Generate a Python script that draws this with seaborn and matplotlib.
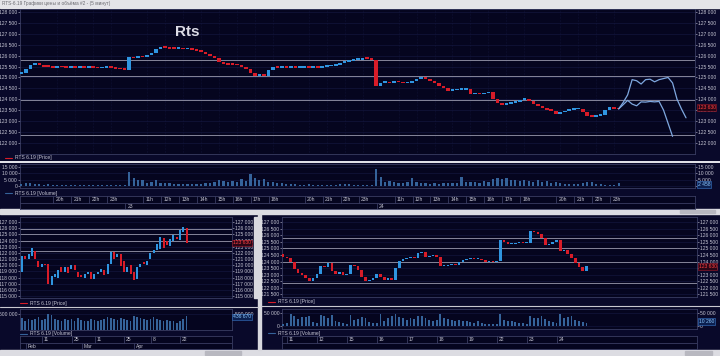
import numpy as np
import pandas as pd
import matplotlib
matplotlib.use("Agg")
import matplotlib.pyplot as plt
from matplotlib.lines import Line2D
from matplotlib.patches import Rectangle
import seaborn as sns

# -----------------------------
# style
sns.set_style("dark")
plt.rcParams['font.family'] = ['Liberation Sans', 'DejaVu Sans']

BG = '#09092a'
PANEL = '#05051f'
EDGE = '#3a3d62'
GRID = '#161a44'
UP = '#2f95e0'
DOWN = '#d81c28'
VOL = '#35639a'
LEVEL = '#85859a'
TXT = '#c4c4d2'
FC = '#7fa8e0'
FS = 3.6

# -----------------------------
# data: top chart, RTS-6.19, 15-min bars (22 evening, 23, 24 April)
top_open0 = 125200
top_close = [125250, 125420, 125600, 125650, 125620, 125520, 125500, 125470, 125520, 125490,
             125460, 125500, 125480, 125510, 125470, 125490, 125460, 125440, 125470, 125480,
             125460, 125420, 125400, 125380,
             125950, 125900, 126000, 125950, 126050, 126150, 126350, 126400, 126380, 126350,
             126330, 126370, 126320, 126340, 126300, 126250, 126200, 126100, 126000, 125900,
             125750, 125650, 125620, 125600, 125580, 125500, 125430, 125250, 125100, 125150,
             125100, 125380, 125500, 125480, 125500, 125450, 125480, 125470, 125480, 125500,
             125470, 125490, 125480, 125500, 125530, 125550, 125600, 125700, 125750, 125800,
             125820, 125850, 125900, 125870, 125850, 124650,
             124790, 124800, 124750, 124880, 124800, 124750, 124780, 124850, 124950, 125000,
             124950, 124880, 124750, 124620, 124550, 124420, 124440, 124450, 124470, 124500,
             124250, 124260, 124250, 124300, 124380, 124060, 123850, 123780, 123820, 123870,
             123920, 124000, 124050, 123950, 123820, 123700, 123620, 123540, 123480, 123370,
             123420, 123480, 123530, 123560, 123570, 123450, 123280, 123230, 123260, 123300,
             123550, 123650, 123600, 123560]
top_volume = [1800, 2600, 2200, 1500, 1200, 900, 1600, 700, 600, 500,
              800, 900, 700, 600, 500, 700, 600, 800, 900, 700,
              500, 600, 800, 700,
              11000, 6500, 4500, 5000, 2500, 3000, 4500, 2500, 2000, 2200,
              1800, 1500, 1600, 1400, 1200, 1300, 1800, 2200, 2600, 3500,
              5000, 4000, 3500, 4200, 3000, 5200, 4000, 9500, 6000, 4500,
              5500, 3500, 3000, 2200, 2500, 1800, 1500, 1200, 1000, 900,
              1200, 1000, 800, 900, 700, 800, 1000, 1300, 1500, 1200,
              1100, 1000, 900, 800, 1000, 13500,
              7000, 3500, 4000, 3000, 2500, 2000, 3000, 6500, 3500, 2500,
              2000, 1800, 2000, 1800, 2200, 2500, 2000, 2600, 7500, 3500,
              3000, 3200, 2500, 4000, 3000, 5500, 6000, 5500, 6500, 5000,
              4500, 4000, 5000, 4000, 3500, 4500, 3000, 3800, 2500, 3000,
              2000, 1500, 1800, 1500, 1200, 2500, 3500, 3000, 1500, 1200,
              1000, 900, 800, 2458]
# two forecast paths, starting at the last bar
fc_start = 133
fc_upper = [123560, 123850, 124200, 124900, 124850, 124700, 124900, 124920, 124800, 124900,
            124950, 125000, 124750, 124000, 123550, 123150]
fc_lower = [123560, 123750, 123950, 123780, 123700, 123880, 123870, 123900, 123880, 123900,
            123500, 122900, 122300]
top_hours = ['20h', '21h', '22h', '23h',
             '11h', '12h', '13h', '14h', '15h', '16h', '17h', '18h', '20h', '21h', '22h', '23h',
             '11h', '12h', '13h', '14h', '15h', '16h', '17h', '18h', '20h', '21h', '22h', '23h']
top_hour_bar = [8, 12, 16, 20,
                28, 32, 36, 40, 44, 48, 52, 56, 64, 68, 72, 76,
                84, 88, 92, 96, 100, 104, 108, 112, 120, 124, 128, 132]
top_days = ['23', '24']
top_day_bar = [24, 80]

levels = [125800, 125050, 123960, 122360]
last_price = 123630

# -----------------------------
# data: bottom-left, daily bars Feb - Apr
daily_open = [118900, 121600, 121100, 121500, 122400, 120800, 119750, 120300, 120300, 116900,
              118200, 118000, 119700, 118900, 119800, 119400, 120100, 119000, 118500, 118000,
              118600, 119000, 117800, 118600, 119000, 119200, 118700, 120300, 122200, 121300,
              121900, 120800, 118900, 120000, 119000, 117800, 119800, 120500, 120000, 121100,
              122100, 122500, 122600, 124400, 124000, 123100, 124000, 124600, 124200, 125400,
              126000]
daily_close = [121600, 121100, 121800, 122900, 121100, 119750, 120200, 120100, 117000, 118300,
               118700, 119300, 118900, 119700, 118800, 120000, 119200, 118200, 118100, 118600,
               119000, 117800, 118600, 119000, 119400, 118400, 120300, 122200, 121100, 121900,
               119900, 119000, 119700, 118700, 117600, 119800, 120300, 120200, 120700, 122100,
               122500, 123500, 124600, 122900, 123300, 124300, 124900, 124300, 125800, 126300,
               123600]
daily_volume = [380000, 300000, 340000, 320000, 350000, 420000, 330000, 360000, 520000, 470000,
                350000, 330000, 300000, 360000, 320000, 340000, 300000, 380000, 320000, 290000,
                300000, 350000, 330000, 300000, 320000, 340000, 420000, 380000, 340000, 320000,
                380000, 350000, 330000, 300000, 450000, 420000, 380000, 360000, 330000, 340000,
                400000, 350000, 320000, 300000, 310000, 290000, 270000, 230000, 280000, 340000,
                436670]
daily_days = ['11', '25', '11', '25', '8', '22']
daily_day_bar = [7, 16, 23, 32, 40, 49]
daily_months = ['Feb', 'Mar', 'Apr']
daily_month_bar = [2, 19, 35]

# -----------------------------
# data: bottom-right, intraday bars 10 - 24 April
hr_open0 = 124600
hr_close = [124400, 124300, 124000, 123450, 123150, 123000, 122800, 122550, 122800, 123100,
            123650, 123600, 123900, 123300, 123100, 123200, 123000, 123100, 123750, 123650,
            123350, 122850, 122500, 122600, 122800, 123050, 122850, 122600, 122800, 122600,
            123500, 124100, 124200, 124300, 124400, 124300, 124650, 124750, 124400, 124450,
            124500, 124350, 123650, 123700, 123750, 123800, 123750, 124000, 124150, 124250,
            124300, 124250, 124250, 124150, 124000, 124050, 124000, 124100, 125650, 125550,
            125350, 125350, 125400, 125500, 125450, 125450, 126350, 126300, 126150, 125800,
            125300, 125350, 125550, 125700, 124850, 124900, 124600, 124300, 123900, 123600,
            123300, 123650]
hr_volume = [8000, 12000, 45000, 40000, 28000, 35000, 36000, 38000, 15000, 10000,
             42000, 38000, 30000, 44000, 20000, 15000, 12000, 8000, 44000, 25000,
             28000, 36000, 30000, 15000, 12000, 10000, 45000, 20000, 30000, 40000,
             48000, 35000, 30000, 25000, 32000, 28000, 40000, 38000, 30000, 22000,
             20000, 25000, 48000, 30000, 28000, 22000, 20000, 25000, 20000, 18000,
             16000, 12000, 18000, 10000, 9000, 8000, 7000, 6000, 45000, 22000,
             18000, 20000, 15000, 12000, 10000, 8000, 40000, 30000, 32000, 38000,
             28000, 20000, 15000, 12000, 47000, 30000, 35000, 38000, 25000, 20000,
             15000, 10260]
hr_days = ['11', '12', '15', '16', '17', '18', '19', '22', '23', '24']
hr_day_bar = [2, 10, 18, 26, 34, 42, 50, 58, 66, 74]

# -----------------------------
W, H = 720, 356
fig = plt.figure(figsize=(W / 100, H / 100), dpi=100, facecolor=BG)


def box(x0, y0, x1, y1):
    return fig.add_axes([x0 / W, 1 - y1 / H, (x1 - x0) / W, (y1 - y0) / H])


def fmt(v):
    return f"{v:,.0f}".replace(",", " ")


def fy(y):
    return 1 - y / H


def style(ax, xlim, ylim, yticks):
    ax.set_facecolor(PANEL)
    ax.set_xlim(*xlim)
    ax.set_ylim(*ylim)
    ax.set_xticks([])
    ax.set_yticks(yticks)
    ax.set_yticklabels([fmt(v) for v in yticks])
    ax.set_xlabel('')
    ax.set_ylabel('')
    ax.tick_params(axis='y', left=True, right=True, labelleft=True, labelright=True,
                   labelsize=FS, colors=TXT, length=1.2, width=0.4, pad=0.8)
    for s in ax.spines.values():
        s.set_color(EDGE)
        s.set_linewidth(0.6)
    ax.grid(axis='y', color=GRID, lw=0.4)
    ax.grid(axis='x', visible=False)


def candles(ax, opens, closes, width, minh):
    o = np.array(opens, dtype=float)
    c = np.array(closes, dtype=float)
    colors = np.where(c >= o, UP, DOWN)
    ax.bar(np.arange(len(c)), np.maximum(np.abs(c - o), minh), width,
           bottom=np.minimum(o, c) - minh / 3, color=colors, linewidth=0, zorder=3)


def volume(ax, vals, width):
    df = pd.DataFrame({'bar': np.arange(len(vals)), 'volume': vals})
    sns.barplot(data=df, x='bar', y='volume', native_scale=True, color=VOL,
                saturation=1, width=width, linewidth=0, ax=ax, zorder=3)


def levels_on(ax):
    for lv in levels:
        ax.axhline(lv, color=LEVEL, lw=0.7, zorder=2)


def price_tag(ax, y, text, fg, bgc, ec):
    ax.text(1.004, y, text, transform=ax.get_yaxis_transform(), fontsize=FS, color=fg,
            va='center', ha='left', zorder=6,
            bbox=dict(facecolor=bgc, edgecolor=ec, lw=0.4, pad=0.5))


def legend_line(x, y, color, label):
    fig.add_artist(Line2D([x / W, (x + 7) / W], [fy(y), fy(y)], color=color, lw=0.8))
    fig.text((x + 10) / W, fy(y), label, fontsize=FS, color=TXT, va='center')


def time_bar(ax, xlim, top_labels, top_pos, bot_labels, bot_pos):
    ax.set_facecolor(PANEL)
    ax.set_xlim(*xlim)
    ax.set_ylim(0, 1)
    ax.set_xticks([])
    ax.set_yticks([])
    for s in ax.spines.values():
        s.set_color(EDGE)
        s.set_linewidth(0.6)
    ax.axhline(0.45, color=EDGE, lw=0.6)
    tr = ax.get_xaxis_transform()
    for lab, p in zip(top_labels, top_pos):
        ax.plot([p - 0.9, p - 0.9], [0.45, 1], color=EDGE, lw=0.6, transform=tr)
        ax.text(p - 0.4, 0.73, lab, transform=tr, fontsize=FS, color=TXT, va='center', ha='left')
    for lab, p in zip(bot_labels, bot_pos):
        ax.plot([p - 0.9, p - 0.9], [0, 0.45], color=EDGE, lw=0.6, transform=tr)
        ax.text(p - 0.4, 0.22, lab, transform=tr, fontsize=FS, color=TXT, va='center', ha='left')


# -----------------------------
# window chrome
fig.add_artist(Rectangle((0, fy(8)), 1, 8 / H, transform=fig.transFigure, color='#e4e4e8', zorder=0))
fig.text(2 / W, fy(4), "RTS-6.19 Графики цены и объёма #2 - (5 минут)", fontsize=3.4,
         color='#6a6a70', va='center')
fig.add_artist(Line2D([0, 1], [fy(161.5), fy(161.5)], color='#e8e8ee', lw=1.4))
fig.add_artist(Rectangle((0, fy(213.5)), 1, 4.5 / H, transform=fig.transFigure, color='#dcdce2', zorder=0))
fig.add_artist(Rectangle((680 / W, fy(213)), 35 / W, 3.5 / H, transform=fig.transFigure, color='#b8b8c0', zorder=1))
fig.add_artist(Rectangle((0, 0), 1, 6 / H, transform=fig.transFigure, color='#dcdce2', zorder=0))
fig.add_artist(Rectangle((205 / W, 1 / H), 36 / W, 4 / H, transform=fig.transFigure, color='#b8b8c0', zorder=1))
fig.add_artist(Rectangle((685 / W, 1 / H), 27 / W, 4 / H, transform=fig.transFigure, color='#b8b8c0', zorder=1))
fig.add_artist(Rectangle((258 / W, 6 / H), 2.5 / W, (356 - 214 - 6) / H, transform=fig.transFigure,
                         color='#d8d8de', zorder=1))
fig.add_artist(Rectangle((253.5 / W, fy(298)), 4 / W, 81 / H, transform=fig.transFigure, color='#d8d8de', zorder=1))
fig.add_artist(Line2D([0, 258 / W], [fy(306.5), fy(306.5)], color='#c8c8d0', lw=0.8))
fig.add_artist(Line2D([261 / W, 1], [fy(305.5), fy(305.5)], color='#c8c8d0', lw=0.8))

# -----------------------------
# top: price
top_xlim = (-0.3, 150)
ax = box(20, 9, 695, 154)
candles(ax, [top_open0] + top_close[:-1], top_close, 0.8, 80)
fc_x = np.arange(fc_start, fc_start + len(fc_upper))
sns.lineplot(x=fc_x, y=fc_upper, color=FC, lw=0.9, ax=ax, zorder=4)
sns.lineplot(x=fc_x[:len(fc_lower)], y=fc_lower, color=FC, lw=0.9, ax=ax, zorder=4)
levels_on(ax)
style(ax, top_xlim, (121490, 128140), np.arange(122000, 128001, 500))
for p in top_hour_bar:
    ax.axvline(p, color=GRID, lw=0.4, ls=':', zorder=1)
price_tag(ax, last_price, fmt(last_price), '#ff4040', '#2a0616', '#a01828')
ax.text(0.248, 0.84, "Rts", transform=ax.transAxes, fontsize=11, fontweight='bold',
        color='#dcdce6', ha='center', va='center')
legend_line(5, 158, DOWN, "RTS 6.19 [Price]")

# top: volume
axv = box(20, 164, 695, 188)
volume(axv, top_volume, 0.5)
style(axv, top_xlim, (-1600, 17400), [0, 5000, 10000, 15000])
price_tag(axv, 1200, fmt(top_volume[-1]), '#8cc8ff', '#0c2050', '#3a78c8')
legend_line(5, 193, VOL, "RTS 6.19 [Volume]")

# top: time axis
axt = box(20, 196, 695, 209)
time_bar(axt, top_xlim, top_hours, top_hour_bar, top_days, top_day_bar)

# -----------------------------
# bottom-left: daily price
d_xlim = (-0.6, len(daily_close) + 12.8)
axl = box(20, 217, 232, 298)
candles(axl, daily_open, daily_close, 0.6, 150)
levels_on(axl)
style(axl, d_xlim, (114680, 127810), np.arange(115000, 127001, 1000))
price_tag(axl, last_price, fmt(last_price), '#ff4040', '#2a0616', '#a01828')
legend_line(20, 303, DOWN, "RTS 6.19 [Price]")

axlv = box(20, 309, 232, 330)
volume(axlv, daily_volume, 0.5)
style(axlv, d_xlim, (0, 667000), [500000])
price_tag(axlv, 420000, fmt(daily_volume[-1]), '#8cc8ff', '#0c2050', '#3a78c8')
legend_line(20, 334, VOL, "RTS 6.19 [Volume]")

axlt = box(20, 336, 232, 349)
time_bar(axlt, d_xlim, daily_days, daily_day_bar, daily_months, daily_month_bar)

# -----------------------------
# bottom-right: intraday price
h_xlim = (-0.3, 110.5)
axr = box(282, 217, 697, 297)
candles(axr, [hr_open0] + hr_close[:-1], hr_close, 0.7, 70)
levels_on(axr)
style(axr, h_xlim, (121290, 127400), np.arange(121500, 127001, 500))
price_tag(axr, last_price, fmt(last_price), '#ff4040', '#2a0616', '#a01828')
legend_line(268, 302, DOWN, "RTS 6.19 [Price]")

axrv = box(282, 309, 697, 329)
volume(axrv, hr_volume, 0.5)
style(axrv, h_xlim, (-11500, 65400), [0, 50000])
price_tag(axrv, 18000, fmt(hr_volume[-1]), '#8cc8ff', '#0c2050', '#3a78c8')
legend_line(268, 333, VOL, "RTS 6.19 [Volume]")

axrt = box(282, 336, 697, 349)
time_bar(axrt, h_xlim, hr_days, hr_day_bar, [], [])

fig.savefig("out.png", dpi=100, facecolor=BG)
